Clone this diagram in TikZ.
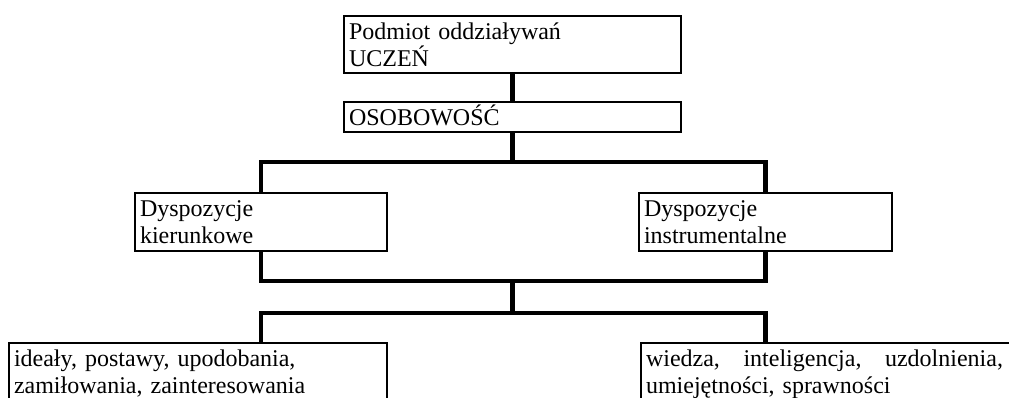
\documentclass[tikz,border=0pt]{standalone}
\usepackage{fontspec}
\setmainfont{Liberation Serif}

\begin{document}
\begin{tikzpicture}[x=1pt, y=-1pt,
    box/.style={draw, line width=2pt, outer sep=0pt, anchor=north west, align=left,
                inner xsep=5pt, inner ysep=3pt, text height=20.5pt, text depth=3.7pt,
                font=\fontsize{24}{27}\selectfont},
    twolines/.style={text depth=30.7pt},
    cutoff/.style={text depth=80pt},
    link/.style={line width=4.5pt}]

    \path[use as bounding box, clip] (0,0) rectangle (1009,397);

    \node[box, twolines, text width=327pt] (podmiot) at (344,15.7) {Podmiot oddziaływań\\UCZEŃ};
    \node[box, text width=327pt] (osobowosc) at (344,101.7) {OSOBOWOŚĆ};

    \node[box, twolines, text width=242pt] (kier) at (135,193.3) {Dyspozycje\\kierunkowe};
    \node[box, twolines, text width=243pt] (instr) at (639,193.3) {Dyspozycje\\instrumentalne};

    \node[box, cutoff, text width=368pt] (ideal) at (9,343) {ideały, postawy, upodobania,\\zamiłowania, zainteresowania};
    \node[box, cutoff, text width=380pt] (wiedza) at (641,343)
        {\makebox[357pt]{wiedza,\hfill inteligencja,\hfill uzdolnienia,}\\umiejętności, sprawności};

    \coordinate (split1) at (512.5,162);
    \coordinate (split2) at (512.5,281);
    \coordinate (split3) at (512.5,313);

    \draw[link] (podmiot) -- (osobowosc);
    \draw[link] (osobowosc.south) -- (split1);
    \draw[link] (kier.north) |- (split1) -| (instr.north);
    \draw[link] (kier.south) |- (split2) -| (instr.south);
    \draw[link] (split2) -- (split3);
    \draw[link] (kier.south |- ideal.north) |- (split3) -| (instr.south |- wiedza.north);
\end{tikzpicture}
\end{document}
